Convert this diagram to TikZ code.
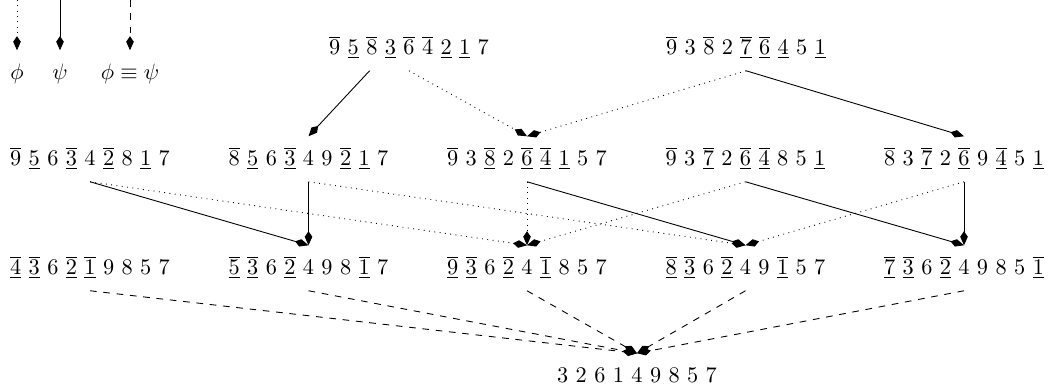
\documentclass[tikz,border=0pt]{standalone}
\usepackage{amsfonts}
\usepackage{mathtools}
\usepackage{tikz}
\usetikzlibrary{arrows.meta}

\newcommand{\ovl}[1]{$\overline{#1}$}
\newcommand{\unl}[1]{$\underline{#1}$}
\newcommand{\ovun}[1]{$\underline{\overline{#1}}$}

\tikzset{
  perm/.style={inner xsep=2pt, inner ysep=4pt, text height=9pt, text depth=3pt}
}

\begin{document}
\begin{tikzpicture}[x=0.4484pt, y=-0.4484pt, >={Kite[length=6.3pt, width=3.4pt, inset=2.5pt]}]
\useasboundingbox (0,0) rectangle (1051,388);

% key
\foreach \l/\s/\x [count=\i] in {$\phi$/dotted/17, $\psi$/solid/60, $\phi\equiv\psi$/dashed/130} {
  \node [perm] (key-\i) at (\x,73) {\l};
  \coordinate (key-\i-top) at (\x,0);
  \draw [->, \s] (key-\i-top) -- (key-\i);
}

\node [perm] (top-1) at (409,48) {\ovl9 \unl5 \ovl8 \unl3 \ovl6 \ovl4 \unl2 \unl1 7};
\node [perm] (top-2) at (746,48) {\ovl9 3 \ovl8 2 \ovun7 \ovun6 \unl4 5 \unl1};

\foreach \p [count=\i] in {{\ovl9 \unl5 6 \ovun3 4 \ovun2 8 \unl1 7},
                           {\ovl8 \unl5 6 \ovun3 4 9 \ovun2 \unl1 7},
                           {\ovl9 3 \ovun8 2 \ovun6 \ovun4 \unl1 5 7},
                           {\ovl9 3 \ovun7 2 \ovun6 \ovun4 8 5 \unl1},
                           {\ovl8 3 \ovun7 2 \ovun6 9 \ovun4 5 \unl1}}
  \node [perm] (mid-\i) at (\i*218.5-128.5,159) {\p};

\foreach \p [count=\i] in {{\ovun4 \ovun3 6 \ovun2 \ovun1 9 8 5 7},
                           {\ovun5 \ovun3 6 \ovun2 4 9 8 \ovun1 7},
                           {\ovun9 \ovun3 6 \ovun2 4 \ovun1 8 5 7},
                           {\ovun8 \ovun3 6 \ovun2 4 9 \ovun1 5 7},
                           {\ovun7 \ovun3 6 \ovun2 4 9 8 5 \ovun1}}
  \node [perm] (low-\i) at (\i*218.5-128.5,268) {\p};

\node [perm] (result) at (637,376) {3 2 6 1 4 9 8 5 7};

\draw [->] (top-1.210) -- (mid-2.north);
\draw [->, dotted] (top-1.south) -- (mid-3.north);
\draw [->, dotted] (top-2.south) -- (mid-3.north);
\draw [->] (top-2.south) -- (mid-5.north);

\foreach \a/\b in {1/2,2/2,3/4,4/5,5/5}
  \draw [->] (mid-\a.south) -- (low-\b.north);
\foreach \a/\b in {1/3,2/4,3/3,4/3,5/4}
  \draw [->, dotted] (mid-\a.south) -- (low-\b.north);

\foreach \i in {1,...,5}
  \draw [->, dashed] (low-\i.south) -- (result.north);
\end{tikzpicture}
\end{document}
